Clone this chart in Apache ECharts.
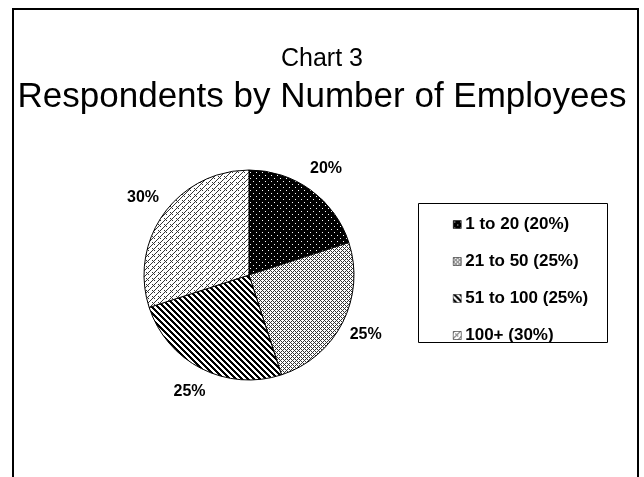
<!DOCTYPE html>
<html>
<head>
<meta charset="utf-8">
<script src="https://cdn.jsdelivr.net/npm/echarts@6/dist/echarts.min.js"></script>
<style>
html,body{margin:0;padding:0;background:#fff;}
#chart{width:644px;height:477px;}
</style>
</head>
<body>
<div id="chart"></div>
<script>
// ---- data ----
const categories = ['1 to 20', '21 to 50', '51 to 100', '100+'];
const shares = [20, 25, 25, 30];
const chartTitle = 'Chart 3';
const chartSubtitle = 'Respondents by Number of Employees';

// ---- pattern fills ----
function makeTile(w, h, bg, fg, test) {
  const c = document.createElement('canvas');
  c.width = w; c.height = h;
  const ctx = c.getContext('2d');
  ctx.fillStyle = bg; ctx.fillRect(0, 0, w, h);
  ctx.fillStyle = fg;
  for (let y = 0; y < h; y++) for (let x = 0; x < w; x++) if (test(x, y)) ctx.fillRect(x, y, 1, 1);
  return { image: c, repeat: 'repeat' };
}
const patterns = [
  makeTile(6, 6, '#000', '#fff', (x, y) => (x === 1 && y === 1) || (x === 4 && y === 4)),
  makeTile(4, 4, '#fff', '#333', (x, y) => (x + y) % 4 === 0 || (x - y + 4) % 4 === 0 || (x === 1 && y === 3)),
  makeTile(6, 6, '#fff', '#000', (x, y) => ((x - y + 6) % 6) < 3),
  makeTile(6, 6, '#fff', '#333', (x, y) => (x + y) % 6 === 0 || ((x - y + 6) % 6 === 0 && x % 2 === 0))
];

const font = "'Liberation Sans', Arial, sans-serif";
const chart = echarts.init(document.getElementById('chart'));

const mainData = categories.map((n, i) => ({ name: n, value: shares[i], itemStyle: { color: patterns[i] } }));
const labelData = categories.map((n, i) => ({ name: n, value: shares[i] }));

chart.setOption({
  animation: false,
  backgroundColor: '#fff',
  title: [
    { text: chartTitle, left: 'center', top: 47, padding: 0,
      textStyle: { fontFamily: font, fontSize: 25, fontWeight: 'normal', color: '#000' } },
    { text: chartSubtitle, left: 'center', top: 80, padding: 0,
      textStyle: { fontFamily: font, fontSize: 35, fontWeight: 'normal', color: '#000' } }
  ],
  graphic: [
    { type: 'rect', shape: { x: 13, y: 9, width: 625, height: 600 },
      style: { fill: 'none', stroke: '#000', lineWidth: 2 }, silent: true },
    { type: 'rect', shape: { x: 418.5, y: 203.5, width: 189, height: 139 },
      style: { fill: 'none', stroke: '#000', lineWidth: 1 }, silent: true }
  ],
  legend: {
    orient: 'vertical',
    left: 453, top: 216,
    padding: 0,
    itemWidth: 8, itemHeight: 8,
    itemGap: 20,
    icon: 'rect',
    selectedMode: false,
    data: categories,
    itemStyle: { borderColor: '#000', borderWidth: 0.5 },
    formatter: function (name) {
      const i = categories.indexOf(name);
      return name + ' (' + shares[i] + '%)';
    },
    textStyle: { fontFamily: font, fontSize: 17, fontWeight: 'bold', color: '#000', lineHeight: 17, padding: [0, 0, 0, -1] }
  },
  series: [
    {
      type: 'pie',
      center: [249, 275],
      radius: [0, 105],
      startAngle: 90,
      clockwise: true,
      silent: true,
      label: { show: false },
      labelLine: { show: false },
      emphasis: { disabled: true },
      itemStyle: { borderColor: '#000', borderWidth: 1 },
      data: mainData
    },
    {
      type: 'pie',
      center: [249, 275],
      radius: [110, 146],
      startAngle: 90,
      clockwise: true,
      silent: true,
      legendHoverLink: false,
      emphasis: { disabled: true },
      itemStyle: { color: 'rgba(0,0,0,0)', borderWidth: 0 },
      labelLine: { show: false },
      label: {
        show: true, position: 'inside', formatter: '{c}%', color: '#000',
        fontFamily: font, fontSize: 16, fontWeight: 'bold'
      },
      data: labelData
    }
  ]
});
</script>
</body>
</html>
